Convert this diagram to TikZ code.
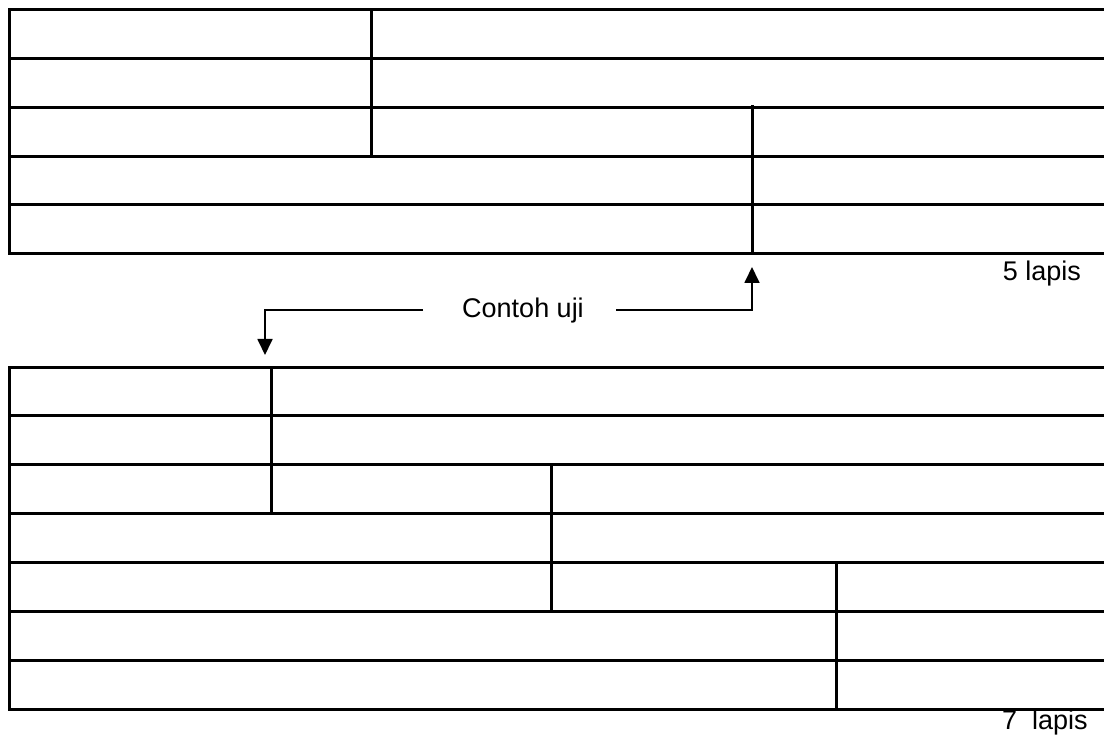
\documentclass[tikz,border=0pt]{standalone}
\usepackage{fontspec}
\setmainfont{Liberation Sans}
\usetikzlibrary{arrows.meta}
\begin{document}
\begin{tikzpicture}[x=1pt,y=-1pt,
  rule/.style={line width=3pt,line cap=rect},
  conn/.style={line width=1.8pt},
  lbl/.style={font=\fontsize{27}{31}\selectfont,inner sep=0pt},
  tip/.style={-{Triangle[length=16pt,width=15pt]}}]
\useasboundingbox (0,0) rectangle (1104,738);
% top table (5 lapis)
\foreach \y in {10,59,108,156.5,205,254} \draw[rule] (9,\y) -- (1106,\y);
\draw[rule] (9,10) -- (9,254);
\draw[rule] (371,10) -- (371,156.5);
\draw[rule] (752,107) -- (752,254);
% bottom table (7 lapis)
\foreach \y in {367,415.5,464,513,562,611,660,709} \draw[rule] (9,\y) -- (1106,\y);
\draw[rule] (9,367) -- (9,709);
\draw[rule] (271,367) -- (271,513);
\draw[rule] (551,464) -- (551,611);
\draw[rule] (836,562) -- (836,709);
% labels
\node[lbl,anchor=base] (lab5) at (1042,281) {5 lapis};
\node[lbl,anchor=base] (lab7) at (1045,729) {7\ \ lapis};
\node[lbl,anchor=base] (contoh) at (523,318) {Contoh uji};
% connectors
\coordinate (l0) at (423,310);
\coordinate (l1) at (265,310);
\coordinate (l2) at (265,355);
\coordinate (r0) at (616,310);
\coordinate (r1) at (752,310);
\coordinate (r2) at (752,267);
\draw[conn,tip] (l0) -- (l1) -- (l2);
\draw[conn,tip] (r0) -- (r1) -- (r2);
\end{tikzpicture}
\end{document}
